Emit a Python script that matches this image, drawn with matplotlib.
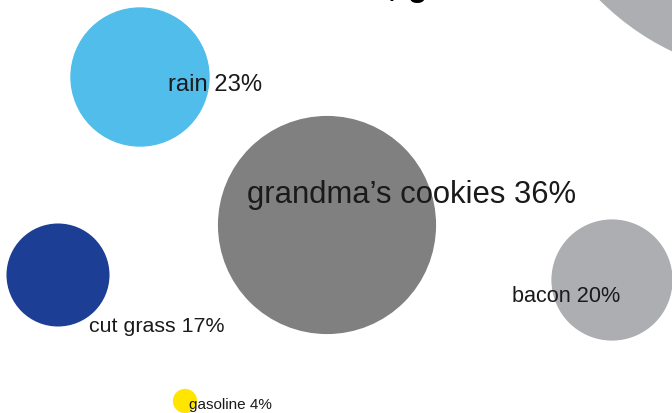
import matplotlib
matplotlib.use("Agg")
import matplotlib.pyplot as plt
from matplotlib.patches import Circle

# ---- data ----
categories = ["rain", "grandma\u2019s cookies", "cut grass", "bacon", "gasoline"]
values = [23, 36, 17, 20, 4]
# bubble layout (canvas coordinates, px, y downward)
x_pos = [140, 327, 58, 612, 185]
y_pos = [77, 225, 275, 280, 401]
# label anchors (left / baseline)
label_x = [168, 247, 89, 512, 189]
label_y = [91, 203, 332, 302, 409]

colors = ["#50BDEB", "#808080", "#1C3F95", "#ADAEB2", "#FFE500"]
label_sizes = [17.1, 22.3, 15.4, 15.6, 11.0]
RADIUS_PER_PCT = 3.03

W, H, DPI = 672, 413, 100
fig = plt.figure(figsize=(W / DPI, H / DPI), dpi=DPI)
ax = fig.add_axes([0, 0, 1, 1])
ax.set_xlim(0, W)
ax.set_ylim(H, 0)
ax.set_aspect("equal")
ax.axis("off")

# partially visible background bubble (top right)
ax.add_patch(Circle((785, -185), 262, facecolor="#ADAEB2", edgecolor="none", zorder=1))

for c, v, x, y, col in zip(categories, values, x_pos, y_pos, colors):
    ax.add_patch(Circle((x, y), v * RADIUS_PER_PCT, facecolor=col, edgecolor="none", zorder=2))

for c, v, lx, ly, fs in zip(categories, values, label_x, label_y, label_sizes):
    ax.text(lx, ly, f"{c} {v}%", ha="left", va="baseline", fontsize=fs,
            family="Liberation Sans", color="#1A1A1A", zorder=3)

# title (mostly above the visible canvas)
ax.text(397, -4, "Smells that stir memories,", ha="right", va="baseline", fontsize=23,
        family="Liberation Sans", fontweight="bold", color="black", zorder=3)
ax.text(408, -4, "graded", ha="left", va="baseline", fontsize=23,
        family="Liberation Sans", fontweight="bold", color="black", zorder=3)

fig.savefig("out.png", dpi=DPI)
